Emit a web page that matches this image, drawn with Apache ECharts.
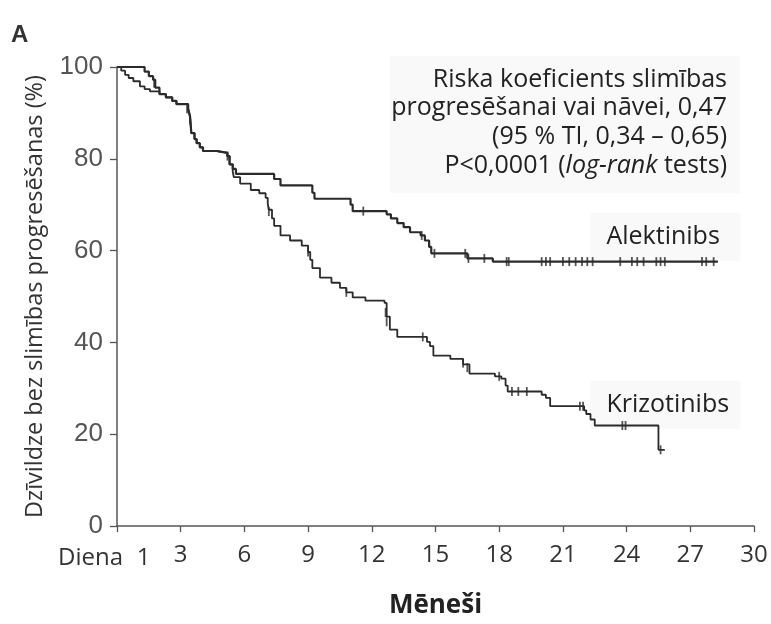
<!DOCTYPE html>
<html>
<head>
<meta charset="utf-8">
<script src="https://cdn.jsdelivr.net/npm/echarts@6/dist/echarts.min.js"></script>
<style>html,body{margin:0;padding:0;background:#fff}#c{width:771px;height:624px}</style>
</head>
<body>
<div id="c"></div>
<script>
// ---- data (months, % progression-free) ----
const alektinibSteps = [[0,100],[1.0,100],[1.3,99],[1.5,98],[1.7,97.2],[1.8,95.5],[2.0,94.1],[2.3,93.4],[2.6,92.6],[2.8,91.9],[3.35,90.9],[3.44,89.2],[3.47,87.5],[3.5,85.6],[3.65,84.3],[3.75,83.4],[3.9,82.5],[4.05,81.7],[4.7,81.3],[5.2,80.6],[5.3,78.8],[5.45,77.8],[5.6,76.7],[7.4,75.6],[7.7,74.2],[9.2,72.6],[9.3,71.3],[11.0,70.0],[11.1,68.6],[12.7,67.9],[12.9,67.0],[13.2,66.0],[13.5,65.1],[13.8,64.0],[14.3,63.3],[14.5,62.2],[14.7,60.8],[14.8,59.4],[16.5,58.3],[17.7,57.6],[28.3,57.6]];
const krizotinibSteps = [[0,100],[0.2,99.2],[0.38,98.3],[0.55,97.6],[0.77,96.9],[1.08,95.8],[1.3,95.2],[1.55,94.7],[2.0,94.1],[2.3,93.4],[2.6,92.6],[2.8,91.9],[3.35,90.9],[3.44,89.2],[3.47,87.5],[3.5,85.6],[3.65,84.3],[3.75,83.4],[3.9,82.5],[4.05,81.7],[4.7,81.3],[5.2,80.6],[5.3,78.8],[5.45,77.2],[5.5,76.0],[5.8,74.6],[6.3,73.2],[6.7,72.5],[7.0,71.5],[7.1,70.2],[7.15,68.9],[7.3,67.0],[7.4,65.4],[7.7,63.3],[8.15,62.2],[8.7,61.1],[9.0,59.7],[9.1,58.0],[9.2,56.2],[9.56,54.1],[10.1,53.0],[10.5,51.9],[10.8,50.9],[11.1,49.8],[11.7,49.1],[12.6,48.6],[12.7,45.6],[12.85,42.8],[13.2,41.2],[14.6,40.1],[14.74,39.2],[14.9,37.1],[15.7,36.4],[16.3,35.2],[16.6,33.2],[17.8,32.6],[18.1,32.1],[18.3,30.6],[18.4,29.3],[20.0,28.6],[20.2,27.9],[20.4,26.1],[22.0,25.2],[22.1,24.4],[22.3,23.2],[22.5,21.9],[25.5,16.6],[25.8,16.6]];
const alektinibCensored = [[1.75,96.5],[3.3,90.9],[5.2,80.6],[11.6,68.6],[14.35,63.3],[14.95,59.4],[16.4,59.4],[16.55,58.3],[17.3,58.3],[18.35,57.6],[18.45,57.6],[20.0,57.6],[20.2,57.6],[20.4,57.6],[21.0,57.6],[21.3,57.6],[21.6,57.6],[21.9,57.6],[22.15,57.6],[22.4,57.6],[23.7,57.6],[24.25,57.6],[24.5,57.6],[24.8,57.6],[25.4,57.6],[25.6,57.6],[25.8,57.6],[27.55,57.6],[27.75,57.6],[28.1,57.6]];
const krizotinibCensored = [[3.44,88.5],[7.15,68.5],[9.0,59.7],[10.8,50.9],[12.65,46.5],[12.7,44.5],[14.4,41.2],[16.3,35.5],[16.5,34.5],[18.0,32.6],[18.6,29.3],[18.9,29.3],[19.3,29.3],[21.8,26.1],[21.95,26.1],[23.8,21.9],[23.95,21.9],[25.6,16.6]];
const xTicks = [0,3,6,9,12,15,18,21,24,27,30];
const extraXLabels = [['Diena', 0], ['1', 1.25]];
const yTicks = [0,20,40,60,80,100];
const annotationLines = ['Riska koeficients slimības', 'progresēšanai vai nāvei, 0,47', '(95 % TI, 0,34 – 0,65)', 'P<0,0001 ({i|log-rank} tests)'];
const seriesNames = ['Alektinibs', 'Krizotinibs'];
const labelAt = [[23.05, 63.0], [23.05, 26.4]]; // label anchor (x month, y %) for series names

const chart = echarts.init(document.getElementById('c'), null, {renderer: 'canvas'});
const lineCol = '#2b2b2b';
const txtFont = '"Open Sans", "Noto Sans", sans-serif';
const option = {
  backgroundColor: '#fff',
  animation: false,
  grid: {left: 117, right: 17, top: 67, bottom: 86, containLabel: false},
  xAxis: {
    type: 'value', min: 0, max: 30, interval: 3,
    name: 'Mēneši', nameLocation: 'middle', nameGap: 67,
    nameTextStyle: {fontFamily: txtFont, fontWeight: 'bold', fontSize: 26, color: '#222'},
    axisLine: {lineStyle: {color: '#555', width: 1.5}},
    axisTick: {show: true, length: 6, lineStyle: {color: '#555', width: 1.3}},
    axisLabel: {margin: 17, fontFamily: txtFont, fontSize: 24, color: '#333',
      formatter: v => (v === 0 ? '' : String(v))},
    splitLine: {show: false}
  },
  yAxis: {
    type: 'value', min: 0, max: 100, interval: 20,
    name: 'Dzīvildze bez slimības progresēšanas (%)', nameLocation: 'middle', nameGap: 70, nameRotate: 90,
    nameTextStyle: {fontFamily: txtFont, fontSize: 23.5, color: '#333'},
    axisLine: {show: true, lineStyle: {color: '#555', width: 1.5}},
    axisTick: {show: true, length: 7, lineStyle: {color: '#555', width: 1.3}},
    axisLabel: {margin: 14, fontFamily: '"Liberation Sans", Arial, sans-serif', fontSize: 26, color: '#555'},
    splitLine: {show: false}
  },
  series: [
    {name: seriesNames[0], type: 'line', step: 'end', data: alektinibSteps, symbol: 'none',
      lineStyle: {color: lineCol, width: 2.2}, z: 3},
    {name: seriesNames[1], type: 'line', step: 'end', data: krizotinibSteps, symbol: 'none',
      lineStyle: {color: lineCol, width: 1.8}, z: 3},
    {type: 'scatter', data: alektinibCensored, symbol: 'rect', symbolSize: [1.8, 9],
      itemStyle: {color: lineCol}, z: 4},
    {type: 'scatter', data: krizotinibCensored, symbol: 'rect', symbolSize: [1.8, 9],
      itemStyle: {color: lineCol}, z: 4}
  ]
};
chart.setOption(option);

// text overlays
const gfx = [];
gfx.push({type: 'text', left: 11, top: 23, style: {text: 'A', font: 'bold 24px "Liberation Sans", Arial, sans-serif', fill: '#333'}});
// annotation
gfx.push({type: 'rect', shape: {x: 390, y: 56, width: 350, height: 137}, style: {fill: '#f9f9f9'}, z: 0});
annotationLines.forEach((t, i) => {
  gfx.push({type: 'text', x: 727, y: 79.5 + i * 28.7, z: 10,
    style: {text: t, align: 'right', verticalAlign: 'middle', fontFamily: txtFont, fontSize: 25, fill: '#222',
      rich: {i: {fontStyle: 'italic', fontFamily: txtFont, fontSize: 25, fill: '#222'}}}});
});
// series name labels
seriesNames.forEach((n, i) => {
  const p = chart.convertToPixel({gridIndex: 0}, labelAt[i]);
  gfx.push({type: 'rect', shape: {x: p[0] - 16, y: p[1] - 24, width: 150, height: 48}, style: {fill: '#f9f9f9'}, z: 0});
  gfx.push({type: 'text', x: p[0], y: p[1], z: 10,
    style: {text: n, align: 'left', verticalAlign: 'middle', fontFamily: txtFont, fontSize: 25, fill: '#222'}});
});
// extra x labels
extraXLabels.forEach(([t, v]) => {
  const p = chart.convertToPixel({gridIndex: 0}, [v, 0]);
  gfx.push({type: 'text', x: t === 'Diena' ? p[0] + 6 : p[0], y: p[1] + 32, z: 10,
    style: {text: t, align: t === 'Diena' ? 'right' : 'center', verticalAlign: 'middle', fontFamily: txtFont, fontSize: 24, fill: '#333'}});
});
chart.setOption({graphic: gfx});
</script>
</body>
</html>
